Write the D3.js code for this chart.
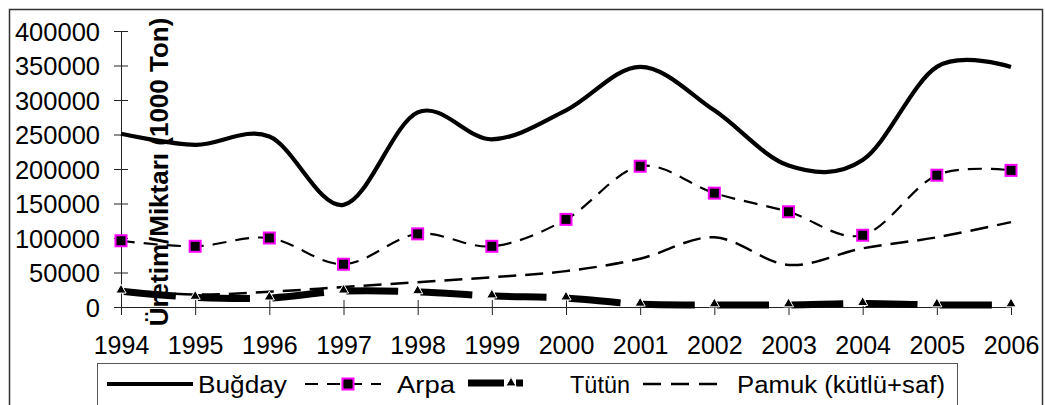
<!DOCTYPE html>
<html><head><meta charset="utf-8">
<script src="https://cdn.jsdelivr.net/npm/d3@7"></script>
<style>body{margin:0;background:#fff}svg{display:block}text{font-family:"Liberation Sans",Arial,sans-serif}</style>
</head><body>
<svg id="c" width="1045" height="405"></svg>
<script>
const years = [1994,1995,1996,1997,1998,1999,2000,2001,2002,2003,2004,2005,2006];
const bugday = [251000,235000,247000,148000,282000,243000,285000,348000,285000,205000,213000,348000,348000];
const arpa   = [96000,88000,100000,62000,106000,88000,127000,204000,165000,138000,104000,191000,198000];
const tutun  = [23000,14000,13000,23000,22000,16000,13000,4000,3000,3000,5000,3000,3000];
const pamuk  = [25000,18000,22000,29000,36000,43000,52000,70000,101000,61000,85000,101000,123000];
const yTicks = [0,50000,100000,150000,200000,250000,300000,350000,400000];
const seriesNames = ["Buğday","Arpa","Tütün","Pamuk (kütlü+saf)"];
const yTitle = "Üretim/Miktarı (1000 Ton)";

const FONT = "'Liberation Sans', Arial, sans-serif";
const svg = d3.select("#c");
const x = d3.scalePoint().domain(years).range([121,1011]);
const y = d3.scaleLinear().domain([0,400000]).range([307,31]);

// outer frame
svg.append("rect").attr("x",9.5).attr("y",9.5).attr("width",1033).attr("height",420)
  .attr("fill","none").attr("stroke","#333").attr("stroke-width",1.5);

// axes
const yAxis = d3.axisLeft(y).tickValues(yTicks).tickFormat(d3.format("d")).tickSize(7).tickSizeOuter(0);
const gy = svg.append("g").attr("transform","translate(121,0)").call(yAxis);
gy.attr("font-family",FONT).attr("font-size",25.5);
gy.selectAll(".tick line").attr("x1",7).attr("x2",-7).attr("stroke","#222");
gy.select(".domain").attr("stroke","#222");
gy.selectAll("text").attr("x",-21).attr("dy","0.36em").attr("fill","#000");

const xAxis = d3.axisBottom(x).tickSize(8).tickSizeOuter(0).tickFormat(d3.format("d"));
const gx = svg.append("g").attr("transform","translate(0,307)").call(xAxis);
gx.attr("font-family",FONT).attr("font-size",25);
gx.selectAll(".tick line").attr("y1",-7).attr("y2",8).attr("stroke","#222");
gx.select(".domain").attr("stroke","#222");
gx.selectAll("text").attr("y",29).attr("dy","0.71em").attr("fill","#000");

// y title
svg.append("text").attr("transform","translate(168,172) rotate(-90)")
  .attr("text-anchor","middle").style("font-size","26px").style("font-weight","bold").text(yTitle);

const curve = d3.curveCardinal.tension(0);
const line = d3.line().x((d,i)=>x(years[i])).y(d=>y(d)).curve(curve);

// Pamuk
svg.append("path").attr("d",line(pamuk)).attr("fill","none").attr("stroke","#000")
  .attr("stroke-width",2.5).attr("stroke-dasharray","18,9");

// Tütün
const tp = svg.append("path").attr("d",line(tutun)).attr("fill","none").attr("stroke","#000")
  .attr("stroke-width",7).attr("stroke-linecap","butt");
const per = tp.node().getTotalLength()/(years.length-1);
tp.attr("stroke-dasharray",`${per*0.7},${per*0.3}`).attr("stroke-dashoffset",-3);

// Arpa
svg.append("path").attr("d",line(arpa)).attr("fill","none").attr("stroke","#000")
  .attr("stroke-width",2.2).attr("stroke-dasharray","14,9");

// Buğday
svg.append("path").attr("d",line(bugday)).attr("fill","none").attr("stroke","#000")
  .attr("stroke-width",4.2);

// markers
svg.selectAll(".tri").data(tutun).join("path").attr("class","tri")
  .attr("d",d3.symbol(d3.symbolTriangle,45)())
  .attr("transform",(d,i)=>`translate(${x(years[i])},${y(d)-1})`)
  .attr("fill","#000").attr("stroke","#fff").attr("stroke-width",1);
svg.selectAll(".sq").data(arpa).join("rect").attr("class","sq")
  .attr("x",(d,i)=>x(years[i])-5.5).attr("y",d=>y(d)-5.5).attr("width",11).attr("height",11)
  .attr("fill","#000").attr("stroke","#ff00ff").attr("stroke-width",2);

// legend
svg.append("rect").attr("x",97.5).attr("y",363.5).attr("width",860).attr("height",60)
  .attr("fill","#fff").attr("stroke","#555").attr("stroke-width",1);
const ly = 384, lt = 393;
const lg = svg.append("g");
const ltext = (xx, s, w) => lg.append("text").attr("x",xx).attr("y",lt).style("font-size","23px")
  .attr("textLength",w).attr("lengthAdjust","spacingAndGlyphs").text(s);
lg.append("line").attr("x1",107).attr("x2",193).attr("y1",ly).attr("y2",ly).attr("stroke","#000").attr("stroke-width",4.2);
ltext(198, seriesNames[0], 89);
lg.append("line").attr("x1",305).attr("x2",381).attr("y1",ly).attr("y2",ly).attr("stroke","#000").attr("stroke-width",2.2).attr("stroke-dasharray","13,9");
lg.append("rect").attr("x",342.5).attr("y",ly-5.5).attr("width",11).attr("height",11).attr("fill","#000").attr("stroke","#ff00ff").attr("stroke-width",2);
ltext(397, seriesNames[1], 58);
lg.append("line").attr("x1",468).attr("x2",504).attr("y1",ly-1).attr("y2",ly-1).attr("stroke","#000").attr("stroke-width",7);
lg.append("line").attr("x1",516).attr("x2",523).attr("y1",ly-1).attr("y2",ly-1).attr("stroke","#000").attr("stroke-width",7);
lg.append("path").attr("d",d3.symbol(d3.symbolTriangle,45)()).attr("transform",`translate(511,${ly-1})`).attr("fill","#000").attr("stroke","#fff").attr("stroke-width",1);
ltext(570, seriesNames[2], 60);
lg.append("line").attr("x1",643).attr("x2",718).attr("y1",ly).attr("y2",ly).attr("stroke","#000").attr("stroke-width",2.5).attr("stroke-dasharray","18,10");
ltext(737, seriesNames[3], 208);
</script>
</body></html>
